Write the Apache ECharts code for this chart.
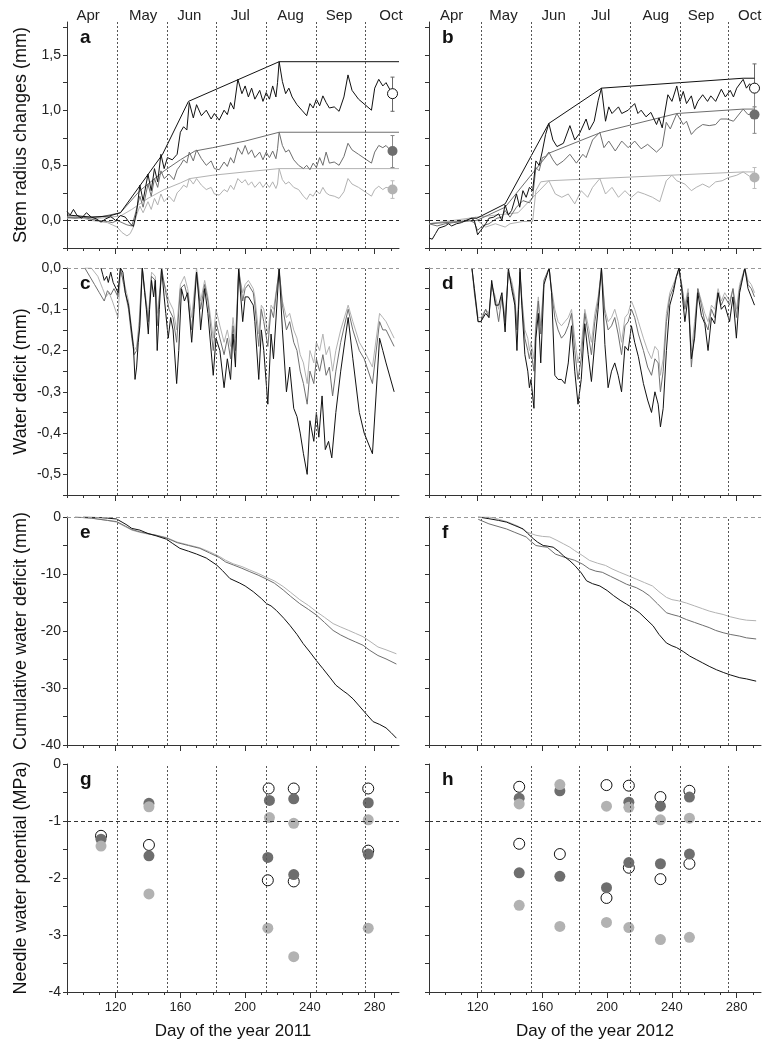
<!DOCTYPE html>
<html>
<head>
<meta charset="utf-8">
<script src="https://cdn.jsdelivr.net/npm/echarts@6/dist/echarts.min.js"></script>
<style>
  html, body { margin: 0; padding: 0; background: #fff; }
  #chart { width: 779px; height: 1049px; }
</style>
</head>
<body>
<div id="chart"></div>
<script>
// --- data (day of year, value) ---
const monthNames = ['Apr', 'May', 'Jun', 'Jul', 'Aug', 'Sep', 'Oct'];
const monthLabelDay2011 = [103, 137, 165.5, 197, 228, 258, 290];
const monthLabelDay2012 = [104, 136, 167, 196, 230, 258, 288];
const monthStart2011 = [121, 152, 182, 213, 244, 274];
const monthStart2012 = [122, 153, 183, 214, 245, 275];
const xTicks = [90, 100, 110, 120, 130, 140, 150, 160, 170, 180, 190, 200, 210, 220, 230, 240, 250, 260, 270, 280, 290];
const xLabels = [120, 160, 200, 240, 280];

// a: stem radius changes 2011
const aBlack = [[90,0.08],[92,0.05],[94,0.1],[96,0.05],[99,0.02],[102,0.07],[105,0.03],[108,0.015],[111,-0.015],[114,0.015],[117,0.035],[120,0],[123,0.045],[126,0.03],[129,-0.03],[131,-0.055],[133,0.08],[135,0.32],[137,0.18],[140,0.42],[142,0.27],[144,0.47],[146,0.35],[148,0.6],[150,0.47],[152,0.57],[155,0.55],[158,0.6],[160,0.8],[162,0.85],[164,0.82],[165.5,1.07],[168,0.93],[170,1.05],[173,0.95],[176,1.0],[179,0.92],[181,0.97],[184,0.91],[187,1.0],[189,0.96],[191,1.07],[193,1.01],[195.5,1.28],[198,1.15],[200,1.22],[202,1.12],[204,1.2],[206,1.1],[209,1.18],[211,1.08],[213,1.16],[215,1.1],[217,1.22],[219,1.12],[220,1.25],[221,1.44],[223,1.26],[225,1.15],[227,1.2],[229,1.12],[232,1.05],[235,1.0],[238,0.95],[240,1.06],[242,1.02],[244,1.1],[246,1.04],[248,1.13],[250,1.07],[252,1.02],[255,1.03],[258,0.99],[261,1.12],[263.5,1.32],[266,1.18],[270,1.1],[274,1.05],[278,1.0],[280,1.2],[282.5,1.28],[285,1.22],[287,1.25],[290,1.17]];
const aMid = [[90,0.03],[95,0.02],[100,0.03],[105,0.01],[110,0.0],[115,-0.01],[118,-0.02],[121,0.0],[124,-0.02],[127,-0.04],[130,-0.05],[132,0.05],[135,0.22],[137,0.12],[140,0.33],[142,0.22],[144,0.38],[146,0.3],[148,0.45],[150,0.38],[153,0.42],[156,0.37],[158,0.46],[160,0.5],[162,0.55],[164,0.52],[165.5,0.62],[168,0.54],[170,0.64],[173,0.56],[176,0.5],[179,0.54],[181,0.47],[184,0.46],[187,0.53],[189,0.49],[191,0.57],[193,0.52],[195.5,0.66],[198,0.6],[200,0.68],[202,0.6],[204,0.64],[206,0.57],[209,0.62],[211,0.55],[213,0.62],[215,0.57],[217,0.63],[219,0.56],[220,0.65],[221,0.8],[223,0.68],[225,0.62],[227,0.64],[230,0.55],[233,0.5],[236,0.47],[238,0.5],[240,0.46],[242,0.52],[244,0.48],[246,0.57],[248,0.5],[250,0.62],[252,0.52],[255,0.53],[258,0.5],[261,0.58],[263.5,0.7],[266,0.64],[270,0.6],[274,0.56],[278,0.52],[280,0.62],[282.5,0.68],[285,0.66],[287,0.68],[290,0.63]];
const aLight = [[90,0.03],[95,0.03],[100,0.02],[105,0.0],[110,-0.01],[115,-0.02],[118,-0.04],[121,-0.06],[124,-0.11],[127,-0.14],[129,-0.12],[131,-0.06],[133,0.05],[135,0.13],[137,0.07],[140,0.17],[142,0.1],[144,0.2],[146,0.14],[148,0.24],[150,0.17],[153,0.22],[156,0.17],[158,0.25],[160,0.28],[162,0.32],[164,0.3],[165.5,0.38],[168,0.33],[170,0.38],[173,0.32],[176,0.28],[179,0.3],[181,0.24],[184,0.23],[187,0.28],[189,0.26],[191,0.32],[193,0.28],[195.5,0.38],[198,0.34],[200,0.37],[202,0.32],[204,0.35],[206,0.3],[209,0.35],[211,0.3],[213,0.34],[215,0.3],[217,0.35],[219,0.29],[220,0.33],[221,0.47],[223,0.37],[225,0.33],[227,0.35],[230,0.3],[233,0.28],[236,0.22],[238,0.19],[240,0.24],[242,0.22],[244,0.27],[246,0.24],[248,0.3],[250,0.25],[252,0.23],[255,0.22],[258,0.2],[261,0.26],[263.5,0.38],[266,0.33],[270,0.3],[274,0.26],[278,0.22],[280,0.28],[282.5,0.31],[285,0.28],[287,0.3],[290,0.29]];
const aBlackEnv = [[90,0.05],[105,0.03],[116,0.04],[123,0.07],[149,0.6],[165,1.08],[221,1.44],[295,1.44]];
const aMidEnv = [[90,0.03],[110,0.03],[123,0.07],[135,0.27],[150,0.45],[160,0.55],[169,0.63],[180,0.66],[200,0.72],[221,0.8],[295,0.8]];
const aLightEnv = [[90,0.02],[110,0.02],[123,0.04],[130,0.1],[140,0.2],[150,0.28],[160,0.34],[166,0.38],[180,0.41],[200,0.44],[221,0.47],[295,0.47]];
// day, mean, low, high  (black, dark grey, light grey)
const aEnd = [[291,1.15,0.99,1.30],[291,0.63,0.48,0.77],[291,0.28,0.20,0.36]];

// b: stem radius changes 2012
const bBlack = [[90,-0.16],[92,-0.17],[94,-0.12],[96,-0.07],[98,-0.06],[100,-0.05],[102,-0.03],[104,-0.05],[107,-0.03],[110,-0.02],[113,0.0],[116,0.02],[118,0.0],[120,-0.13],[122,-0.09],[125,-0.03],[127,0.02],[130,0.03],[133,0.06],[135,0.0],[137,0.14],[139,0.05],[141,0.09],[144,0.24],[146,0.12],[148,0.27],[150,0.21],[152,0.3],[154,0.27],[156,0.54],[158,0.5],[160,0.63],[162,0.78],[164,0.88],[166.5,0.73],[169,0.67],[173,0.7],[177,0.86],[180,0.73],[183,0.79],[187,0.92],[189,0.82],[192,0.9],[194.5,1.09],[196.5,1.2],[199,0.9],[201,1.03],[203,0.97],[207,1.03],[209,0.97],[213,1.0],[217,1.06],[219,0.97],[221,1.0],[224,0.94],[227,0.98],[230.5,0.87],[232,0.93],[234,0.84],[237.5,1.14],[240,1.08],[243,1.22],[245,1.08],[247,1.17],[249,1.06],[252,1.13],[254,1.01],[256,1.08],[259,1.14],[262,1.08],[264,1.13],[267,1.08],[270.5,1.19],[273,1.12],[276,1.18],[278,1.12],[280,1.2],[284,1.28],[286,1.2],[288,1.24],[290,1.2]];
const bMid = [[90,-0.03],[95,-0.05],[100,-0.03],[105,-0.02],[110,-0.01],[115,0.0],[118,-0.02],[120,-0.09],[123,-0.05],[127,-0.03],[132,0.02],[135,0.03],[137,0.09],[140,0.03],[144,0.12],[148,0.18],[152,0.16],[154,0.21],[156,0.48],[158,0.45],[160,0.57],[162,0.58],[164,0.62],[166.5,0.55],[169,0.5],[173,0.54],[177,0.6],[181,0.52],[185,0.6],[187,0.57],[191,0.73],[195.5,0.8],[198,0.66],[201,0.72],[205,0.63],[209,0.72],[213,0.66],[217,0.72],[221,0.65],[225,0.69],[230.5,0.62],[234,0.67],[236.5,0.89],[239,0.83],[243,0.97],[247,0.87],[249,0.9],[252,0.78],[255,0.83],[259,0.87],[263,0.86],[267,0.87],[270,0.92],[274,0.92],[278,0.9],[284,1.01],[287,0.96],[290,0.97]];
const bLight = [[90,-0.03],[95,-0.02],[100,-0.01],[105,-0.01],[110,0.0],[115,0.01],[119,0.03],[120,0.0],[125,-0.06],[131,-0.03],[137,-0.06],[140,-0.03],[148,-0.01],[154,-0.01],[156,0.27],[159,0.35],[164,0.36],[168,0.24],[172,0.21],[176,0.24],[180,0.15],[184,0.27],[188,0.21],[191,0.3],[195.5,0.38],[199,0.24],[203,0.3],[207,0.21],[211,0.27],[215,0.21],[219,0.26],[223,0.24],[228,0.21],[232.5,0.17],[236.5,0.36],[240,0.41],[243,0.36],[248,0.33],[252,0.27],[255,0.3],[259,0.33],[263,0.3],[267,0.35],[271,0.36],[275,0.39],[280,0.41],[284,0.44],[288,0.4],[290,0.41]];
const bBlackEnv = [[116,0.02],[119.5,0.02],[137,0.15],[164,0.88],[196.5,1.2],[284,1.29],[291,1.29]];
const bMidEnv = [[90,-0.03],[119.5,0.0],[137,0.12],[164,0.61],[196.5,0.8],[243,0.97],[284,1.01],[291,1.01]];
const bLightEnv = [[90,-0.03],[119.5,0.03],[145,0.07],[164,0.36],[284,0.44],[291,0.44]];
const bEnd = [[291,1.20,1.03,1.42],[291,0.96,0.79,1.18],[291,0.39,0.29,0.48]];

// c: water deficit 2011
const cBlack = [[111,0],[112,-0.015],[113,-0.03],[114.5,-0.02],[115.5,-0.035],[117,-0.01],[118.5,-0.035],[121.5,-0.06],[123,0],[124.5,-0.01],[126,-0.06],[128,-0.09],[129.5,-0.14],[131,-0.19],[132,-0.27],[133,-0.24],[134,-0.18],[135,-0.14],[136.5,0],[138,-0.06],[139,-0.1],[140.2,-0.16],[141,-0.1],[142.2,-0.03],[143.5,-0.07],[144.5,-0.03],[145.7,-0.2],[147,-0.1],[148.4,0],[150,-0.07],[151,-0.11],[152.5,-0.17],[154,-0.12],[155.5,-0.15],[157.7,-0.28],[159,-0.2],[160.7,-0.05],[162.5,-0.08],[164.5,-0.06],[167,-0.18],[168.5,-0.1],[170,-0.01],[171.5,-0.08],[172.5,-0.15],[175,-0.05],[177,-0.11],[180.3,-0.26],[182,-0.17],[184.4,-0.2],[187,-0.29],[189,-0.22],[191,-0.27],[192.5,-0.16],[194,-0.24],[196,0],[197.5,-0.08],[198.5,-0.13],[200,-0.07],[202,-0.07],[205,-0.09],[206,-0.13],[208.4,-0.27],[210,-0.15],[211.5,-0.2],[214,-0.33],[216,-0.16],[217.5,-0.22],[221,0],[223,-0.15],[225.5,-0.3],[227.5,-0.24],[230,-0.34],[232,-0.36],[234,-0.4],[236,-0.45],[238.3,-0.5],[240,-0.37],[242.4,-0.42],[244,-0.35],[245.5,-0.41],[247.5,-0.31],[249.5,-0.44],[251.5,-0.42],[253.5,-0.46],[256,-0.35],[259,-0.25],[263.6,-0.12],[266.5,-0.22],[270.5,-0.35],[273.5,-0.4],[278.6,-0.45],[283,-0.17],[285,-0.2],[287,-0.23],[292,-0.3]];
const cMid = [[101,0],[104,-0.02],[107,-0.04],[110,-0.06],[113,-0.08],[115,-0.055],[117,-0.065],[119,-0.05],[121.5,-0.07],[123,0],[125,-0.04],[128,-0.1],[130,-0.17],[131.5,-0.21],[133,-0.2],[134.5,-0.15],[136.5,0],[138,-0.06],[140.2,-0.13],[142.2,-0.02],[144.5,-0.03],[145.7,-0.14],[148.4,0],[151,-0.06],[153,-0.1],[155.5,-0.12],[157.7,-0.18],[160,-0.05],[162.5,-0.04],[164.5,-0.07],[167,-0.15],[170,-0.01],[172.5,-0.1],[175,-0.04],[177,-0.08],[180.3,-0.2],[182,-0.13],[184.4,-0.17],[187,-0.21],[189,-0.17],[191,-0.22],[192.5,-0.14],[194,-0.2],[196,0],[198.5,-0.08],[200,-0.05],[202,-0.04],[205,-0.06],[206,-0.09],[208.4,-0.19],[210,-0.1],[211.5,-0.13],[214,-0.19],[216,-0.1],[217.5,-0.12],[221,0],[223,-0.09],[225.5,-0.15],[227.5,-0.13],[230,-0.18],[232,-0.2],[234,-0.25],[236,-0.28],[238.3,-0.33],[240,-0.25],[242.4,-0.28],[244,-0.22],[246,-0.25],[248,-0.21],[250,-0.26],[252,-0.24],[254,-0.31],[256,-0.25],[259,-0.18],[263.6,-0.1],[266.5,-0.15],[270.5,-0.2],[273.5,-0.22],[278.6,-0.28],[283,-0.13],[285,-0.15],[287,-0.15],[292,-0.19]];
const cLight = [[101,0],[105,0],[109,-0.02],[112,-0.05],[114,-0.07],[116,-0.06],[118,-0.08],[121.5,-0.12],[123,-0.01],[125,-0.03],[128,-0.08],[130,-0.15],[131.5,-0.2],[133,-0.19],[134.5,-0.13],[136.5,0],[138,-0.05],[140.2,-0.12],[142.2,-0.01],[144.5,-0.02],[145.7,-0.11],[148.4,-0.02],[151,-0.05],[153,-0.08],[155.5,-0.1],[157.7,-0.15],[160,-0.04],[162.5,-0.02],[164.5,-0.05],[167,-0.12],[170,0],[172.5,-0.08],[175,-0.03],[177,-0.07],[180.3,-0.17],[182,-0.1],[184.4,-0.14],[187,-0.18],[189,-0.15],[191,-0.19],[192.5,-0.12],[194,-0.17],[196,-0.01],[198.5,-0.06],[200,-0.04],[202,-0.03],[205,-0.05],[206,-0.07],[208.4,-0.16],[210,-0.09],[211.5,-0.1],[214,-0.16],[216,-0.09],[217.5,-0.1],[221,-0.01],[223,-0.08],[225.5,-0.12],[227.5,-0.11],[230,-0.15],[232,-0.17],[234,-0.21],[236,-0.23],[238.3,-0.28],[240,-0.2],[242.4,-0.23],[244,-0.18],[246,-0.2],[248,-0.16],[250,-0.21],[252,-0.19],[254,-0.25],[256,-0.2],[259,-0.15],[263.6,-0.09],[266.5,-0.13],[270.5,-0.18],[273.5,-0.2],[278.6,-0.24],[283,-0.11],[285,-0.12],[287,-0.13],[292,-0.17]];

// d: water deficit 2012
const dBlack = [[116.5,0],[118,-0.05],[120.3,-0.13],[122,-0.13],[125,-0.11],[127,-0.12],[128.7,-0.03],[131,-0.09],[133,-0.09],[135,-0.06],[137,-0.155],[139,0],[141,-0.05],[143,-0.09],[144.3,-0.2],[145.3,-0.1],[146.2,0],[147.3,-0.09],[149.2,-0.21],[151,-0.25],[152,-0.29],[153,-0.27],[154.8,-0.34],[156,-0.17],[157.5,-0.11],[159,-0.23],[161,-0.04],[164.2,0],[165.7,-0.06],[167.7,-0.26],[169.7,-0.27],[171.8,-0.27],[173.9,-0.28],[176,-0.23],[178,-0.14],[180,-0.25],[182,-0.33],[184,-0.27],[186.2,-0.135],[188.3,-0.21],[190.3,-0.275],[192.4,-0.18],[194.4,-0.1],[196.5,0],[198.6,-0.185],[200.6,-0.29],[202.7,-0.25],[204.7,-0.23],[206.8,-0.26],[208.9,-0.3],[211,-0.19],[213,-0.2],[215,-0.14],[217,-0.18],[219.3,-0.215],[222.4,-0.28],[225,-0.32],[227.4,-0.35],[229.5,-0.3],[231.5,-0.33],[232.9,-0.385],[234.6,-0.34],[236.6,-0.2],[238.7,-0.09],[240.8,-0.06],[242.8,-0.02],[244.4,0],[246,-0.05],[248,-0.13],[250,-0.07],[252,-0.22],[254,-0.17],[256,-0.06],[258.2,-0.115],[260.3,-0.135],[262.3,-0.2],[264.4,-0.12],[266.4,-0.135],[268.5,-0.06],[270.5,-0.1],[272.6,-0.09],[275.6,-0.13],[277.7,-0.07],[279.8,-0.17],[281.8,-0.06],[285,0],[287,-0.05],[289,-0.07],[291,-0.09]];
const dMid = [[116.5,0],[118,-0.06],[120.3,-0.13],[122,-0.13],[125,-0.1],[127,-0.12],[128.7,-0.04],[131,-0.08],[133,-0.13],[135,-0.07],[137,-0.13],[139,-0.01],[141,-0.04],[143,-0.08],[144.3,-0.15],[145.3,-0.09],[146.2,-0.01],[147.3,-0.08],[149.2,-0.17],[151,-0.2],[152,-0.22],[153,-0.2],[154.8,-0.25],[156,-0.15],[157.5,-0.08],[159,-0.16],[161,-0.03],[164.2,0],[165.7,-0.06],[167.7,-0.12],[169.7,-0.15],[171.8,-0.17],[173.9,-0.16],[176,-0.14],[178,-0.11],[180,-0.2],[182,-0.27],[184,-0.22],[186.2,-0.11],[188.3,-0.16],[190.3,-0.21],[192.4,-0.13],[194.4,-0.08],[196.5,0],[198.6,-0.11],[200.6,-0.15],[202.7,-0.14],[204.7,-0.12],[206.8,-0.16],[208.9,-0.21],[211,-0.14],[213,-0.13],[215,-0.1],[217,-0.12],[219.3,-0.16],[222.4,-0.2],[225,-0.24],[227.4,-0.26],[229.5,-0.22],[231.5,-0.23],[232.9,-0.3],[234.6,-0.25],[236.6,-0.13],[238.7,-0.07],[240.8,-0.05],[242.8,-0.02],[244.4,0],[246,-0.04],[248,-0.1],[250,-0.06],[252,-0.24],[254,-0.15],[256,-0.05],[258.2,-0.09],[260.3,-0.13],[262.3,-0.15],[264.4,-0.1],[266.4,-0.12],[268.5,-0.06],[270.5,-0.09],[272.6,-0.07],[275.6,-0.09],[277.7,-0.05],[279.8,-0.12],[281.8,-0.05],[285,0],[287,-0.04],[289,-0.05],[291,-0.07]];
const dLight = [[116.5,0],[118,-0.05],[120.3,-0.12],[122,-0.12],[125,-0.1],[127,-0.11],[128.7,-0.04],[131,-0.07],[133,-0.1],[135,-0.06],[137,-0.12],[139,-0.01],[141,-0.03],[143,-0.07],[144.3,-0.14],[145.3,-0.08],[146.2,-0.02],[147.3,-0.07],[149.2,-0.15],[151,-0.17],[152,-0.2],[153,-0.18],[154.8,-0.22],[156,-0.13],[157.5,-0.07],[159,-0.14],[161,-0.03],[164.2,0],[165.7,-0.05],[167.7,-0.1],[169.7,-0.13],[171.8,-0.14],[173.9,-0.13],[176,-0.12],[178,-0.1],[180,-0.17],[182,-0.23],[184,-0.19],[186.2,-0.1],[188.3,-0.14],[190.3,-0.18],[192.4,-0.11],[194.4,-0.07],[196.5,-0.01],[198.6,-0.1],[200.6,-0.13],[202.7,-0.12],[204.7,-0.1],[206.8,-0.13],[208.9,-0.18],[211,-0.12],[213,-0.11],[215,-0.08],[217,-0.1],[219.3,-0.13],[222.4,-0.17],[225,-0.2],[227.4,-0.22],[229.5,-0.19],[231.5,-0.2],[232.9,-0.26],[234.6,-0.22],[236.6,-0.11],[238.7,-0.06],[240.8,-0.04],[242.8,-0.02],[244.4,-0.01],[246,-0.04],[248,-0.09],[250,-0.05],[252,-0.2],[254,-0.13],[256,-0.05],[258.2,-0.08],[260.3,-0.11],[262.3,-0.13],[264.4,-0.09],[266.4,-0.1],[268.5,-0.05],[270.5,-0.08],[272.6,-0.06],[275.6,-0.08],[277.7,-0.05],[279.8,-0.1],[281.8,-0.04],[285,0],[287,-0.03],[289,-0.04],[291,-0.06]];

// e: cumulative water deficit 2011
const eBlack = [[100,0],[110,-0.1],[115,-0.2],[120.6,-0.35],[124,-0.9],[127,-1.4],[130,-2.0],[135,-2.3],[140,-2.9],[145,-3.3],[151.5,-3.9],[155,-4.6],[159.7,-5.5],[165,-6.0],[170,-6.5],[176,-7.2],[182.3,-8.4],[186,-9.4],[190.6,-10.8],[196.7,-11.6],[200,-12.1],[205,-13.1],[210,-14.3],[213.2,-15.2],[216,-15.6],[219.3,-16.4],[224,-17.8],[227.6,-19],[232,-20.6],[235.8,-22.2],[240,-23.7],[244,-25.2],[248,-26.6],[252.2,-28.1],[256,-29.5],[260.5,-30.5],[263,-31.0],[266.6,-31.9],[270,-33.0],[274.9,-34.6],[279,-35.9],[283.1,-36.4],[287,-37.0],[290,-37.8],[293.4,-38.8]];
const eMid = [[95,0],[105,-0.2],[115,-0.6],[120.6,-0.8],[126,-1.6],[130,-2.2],[135,-2.6],[140,-2.9],[145,-3.2],[151.5,-3.7],[158,-4.5],[165,-5.0],[172,-5.5],[178,-6.3],[184,-7.1],[188,-7.9],[192.6,-8.4],[198,-9.0],[202.9,-9.6],[208,-10.2],[213.2,-10.9],[218,-11.6],[223.5,-12.8],[228,-13.9],[233.7,-15.2],[239,-16.2],[244,-17.2],[249,-18.5],[254.3,-19.9],[259,-20.7],[264,-21.4],[268,-21.9],[272.8,-22.5],[277,-23.4],[282,-24.3],[287,-24.9],[293.4,-25.8]];
const eLight = [[95,0],[105,-0.2],[115,-0.6],[120.6,-0.9],[126,-1.7],[130,-2.3],[135,-2.7],[140,-3.0],[145,-3.2],[151.5,-3.6],[158,-4.4],[165,-4.9],[172,-5.4],[178,-6.1],[184,-6.9],[188,-7.6],[192.6,-8.2],[198,-8.7],[202.9,-9.3],[208,-9.9],[213.2,-10.6],[218,-11.2],[223.5,-12.2],[228,-13.2],[233.7,-14.5],[239,-15.5],[244,-16.6],[249,-17.6],[254.3,-18.7],[259,-19.3],[264,-19.9],[268,-20.4],[272.8,-21.0],[277,-21.8],[282,-22.8],[287,-23.3],[293.4,-24.0]];

// f: cumulative water deficit 2012
const fBlack = [[120.4,0],[127,-0.3],[133,-0.6],[137.9,-0.9],[143,-1.5],[148.2,-2.1],[151,-2.9],[154.4,-3.8],[157,-4.4],[160.5,-5.0],[163,-5.1],[166.7,-5.3],[170,-6.0],[173,-6.8],[177,-7.7],[180,-8.5],[184,-9.8],[187.3,-11.2],[191,-11.7],[195.5,-12.1],[200,-12.9],[204,-13.8],[208,-14.6],[212,-15.3],[216,-16.0],[220,-16.8],[224,-17.9],[228.4,-19.1],[232,-20.6],[236.6,-22.1],[240,-22.6],[242.8,-22.9],[247,-23.6],[251,-24.4],[255,-25.0],[259,-25.6],[263,-26.2],[267.5,-26.8],[272,-27.3],[276,-27.7],[281.9,-28.2],[286,-28.4],[292,-28.8]];
const fMid = [[120.4,-0.4],[127,-1.2],[137.9,-2.1],[143,-2.7],[150,-3.5],[153,-4.3],[156,-5.0],[160,-5.2],[163,-5.3],[168,-6.5],[174,-7.1],[180,-7.6],[185,-8.3],[189,-9.1],[193,-9.5],[197,-9.7],[202,-10.4],[207.8,-11.2],[212,-11.8],[218,-12.4],[222,-13.0],[226,-13.8],[231,-15.2],[236.6,-16.8],[240,-17.1],[244,-17.4],[249,-18.0],[254,-18.5],[259,-19.0],[263,-19.4],[267,-19.9],[271.6,-20.3],[276,-20.6],[281.9,-20.9],[286,-21.2],[292,-21.4]];
const fLight = [[120.4,0],[127,0],[132,-0.3],[139,-0.9],[145,-1.6],[150,-2.6],[153,-2.9],[156,-3.2],[160,-3.4],[164.6,-3.5],[169,-4.1],[173,-4.7],[177,-5.3],[180,-5.9],[185,-6.8],[189,-7.6],[194,-8.1],[199,-8.5],[203,-9.1],[207.8,-9.7],[213,-10.3],[218,-10.9],[223,-11.5],[228,-12.1],[232,-13.1],[236.6,-14.1],[240,-14.5],[244,-14.7],[249,-15.1],[254,-15.6],[259,-16.1],[263,-16.5],[267,-16.8],[271.6,-17.1],[276,-17.5],[281.9,-17.9],[286,-18.1],[292,-18.2]];

// g, h: needle water potential
const gOpen = [[111,-1.26],[140.6,-1.42],[214.5,-0.43],[214,-2.04],[230,-0.43],[230,-2.06],[276,-0.43],[276,-1.52]];
const gDark = [[111,-1.32],[140.6,-0.69],[140.6,-1.61],[215,-0.64],[214,-1.64],[230,-0.61],[230,-1.94],[276,-0.68],[276,-1.58]];
const gLight = [[111,-1.44],[140.6,-0.75],[140.6,-2.28],[215,-0.94],[214,-2.88],[230,-1.04],[230,-3.38],[276,-0.98],[276,-2.88]];
const hOpen = [[145.7,-0.4],[145.7,-1.4],[170.8,-1.58],[199.6,-0.37],[199.6,-2.35],[213.4,-0.38],[213.4,-1.82],[232.9,-0.58],[232.9,-2.02],[250.8,-0.47],[250.8,-1.75]];
const hDark = [[145.7,-0.6],[145.7,-1.91],[170.8,-0.47],[170.8,-1.97],[199.6,-2.17],[213.4,-0.67],[213.4,-1.73],[232.9,-0.74],[232.9,-1.75],[250.8,-0.58],[250.8,-1.58]];
const hLight = [[145.7,-0.7],[145.7,-2.48],[170.8,-0.36],[170.8,-2.85],[199.6,-0.74],[199.6,-2.78],[213.4,-0.76],[213.4,-2.87],[232.9,-0.98],[232.9,-3.08],[250.8,-0.95],[250.8,-3.04]];

// --- layout / styling ---
const FONT = 'Liberation Sans, Arial, sans-serif';
const C_BLACK = '#111', C_MID = '#6e6e6e', C_LIGHT = '#b2b2b2';
const colLeft = [67, 429];
const plotW = 332;
const rowTop = [22, 268, 517, 764];
const rowH = [226, 227, 228, 228];

const yCfg = [
  { min: -0.25, max: 1.8, ticks: [-0.25,0,0.25,0.5,0.75,1,1.25,1.5,1.75], labels: [0,0.5,1,1.5], dec: 1, name: 'Stem radius changes (mm)', ref: 0, refColor: '#222' },
  { min: -0.55, max: 0, ticks: [-0.55,-0.5,-0.45,-0.4,-0.35,-0.3,-0.25,-0.2,-0.15,-0.1,-0.05,0], labels: [0,-0.1,-0.2,-0.3,-0.4,-0.5], dec: 1, name: 'Water deficit (mm)', ref: 0, refColor: '#999' },
  { min: -40, max: 0, ticks: [-40,-35,-30,-25,-20,-15,-10,-5,0], labels: [0,-10,-20,-30,-40], dec: 0, name: 'Cumulative water deficit (mm)', ref: 0, refColor: '#999' },
  { min: -4, max: 0, ticks: [-4,-3.5,-3,-2.5,-2,-1.5,-1,-0.5,0], labels: [0,-1,-2,-3,-4], dec: 0, name: 'Needle water potential (MPa)', ref: -1, refColor: '#333' }
];

const grid = [], xAxis = [], yAxis = [], series = [];
const letters = ['a','b','c','d','e','f','g','h'];

for (let r = 0; r < 4; r++) {
  for (let c = 0; c < 2; c++) {
    const i = r * 2 + c;
    const cfg = yCfg[r];
    grid.push({ left: colLeft[c], top: rowTop[r], width: plotW, height: rowH[r] });
    xAxis.push({
      type: 'value', gridIndex: i, min: 90, max: 295, position: 'bottom',
      axisLine: { onZero: false, lineStyle: { color: '#333', width: 1 } },
      axisTick: { customValues: xTicks, length: 3, lineStyle: { color: '#333' } },
      axisLabel: { show: r === 3, customValues: xLabels, margin: 9, fontSize: 13, color: '#222', fontFamily: FONT },
      splitLine: { show: false },
      name: r === 3 ? 'Day of the year ' + (c === 0 ? '2011' : '2012') : '',
      nameLocation: 'middle', nameGap: 31,
      nameTextStyle: { fontSize: 17, color: '#111', fontFamily: FONT }
    });
    yAxis.push({
      type: 'value', gridIndex: i, min: cfg.min, max: cfg.max, position: 'left',
      axisLine: { show: true, onZero: false, lineStyle: { color: '#333', width: 1 } },
      axisTick: { customValues: cfg.ticks, length: 4, lineStyle: { color: '#333' } },
      axisLabel: {
        show: c === 0, customValues: cfg.labels, margin: 6, fontSize: 14, color: '#222', fontFamily: FONT,
        formatter: v => cfg.dec ? v.toFixed(cfg.dec).replace('.', ',') : String(Math.round(v))
      },
      splitLine: { show: false },
      name: c === 0 ? cfg.name : '', nameLocation: 'middle', nameGap: 37,
      nameTextStyle: { fontSize: 18, color: '#111', fontFamily: FONT }
    });
  }
}
// longer major ticks at labelled days
for (let i = 0; i < 8; i++) {
  xAxis.push({
    type: 'value', gridIndex: i, min: 90, max: 295, position: 'bottom',
    axisLine: { show: false, onZero: false },
    axisTick: { customValues: xLabels, length: 6, lineStyle: { color: '#333' } },
    axisLabel: { show: false }, splitLine: { show: false }
  });
}
// month names on top of a and b
[monthLabelDay2011, monthLabelDay2012].forEach((days, c) => {
  xAxis.push({
    type: 'value', gridIndex: c, min: 90, max: 295, position: 'top',
    axisLine: { show: false, onZero: false }, axisTick: { show: false }, splitLine: { show: false },
    axisLabel: {
      customValues: days, margin: -1, fontSize: 15, color: '#222', fontFamily: FONT, hideOverlap: false,
      formatter: v => monthNames[days.indexOf(v)]
    }
  });
});

function guides(i) {
  const r = Math.floor(i / 2), c = i % 2;
  const starts = c === 0 ? monthStart2011 : monthStart2012;
  const data = starts.map(d => ({ xAxis: d, lineStyle: { type: [2, 2], color: '#555', width: 1 } }));
  data.push({ yAxis: yCfg[r].ref, lineStyle: { type: [4, 3], color: yCfg[r].refColor, width: 1 } });
  return { silent: true, symbol: ['none', 'none'], label: { show: false }, animation: false, data };
}

function line(i, data, color, withGuides) {
  const s = {
    type: 'line', xAxisIndex: i, yAxisIndex: i, data, showSymbol: false, symbol: 'none',
    lineStyle: { color, width: 1 }, silent: true, animation: false, z: 3
  };
  if (withGuides) s.markLine = guides(i);
  return s;
}

function dots(i, data, fill, border, size, withGuides) {
  const s = {
    type: 'scatter', xAxisIndex: i, yAxisIndex: i, data, symbol: 'circle', symbolSize: size,
    itemStyle: { color: fill, borderColor: border, borderWidth: border === 'none' ? 0 : 1, opacity: 1 },
    silent: true, animation: false, z: 4
  };
  if (withGuides) s.markLine = guides(i);
  return s;
}

const endColors = [['#fff', C_BLACK, '#666'], [C_MID, 'none', '#888'], [C_LIGHT, 'none', '#bbb']];
function endBars(i, rows) {
  series.push({
    type: 'custom', xAxisIndex: i, yAxisIndex: i, data: rows, silent: true, animation: false, z: 3,
    renderItem: (params, api) => {
      const x = api.value(0);
      const p1 = api.coord([x, api.value(2)]);
      const p2 = api.coord([x, api.value(3)]);
      const stroke = endColors[params.dataIndex][2];
      return {
        type: 'group', children: [
          { type: 'line', shape: { x1: p1[0], y1: p1[1], x2: p2[0], y2: p2[1] }, style: { stroke, lineWidth: 1 } },
          { type: 'line', shape: { x1: p1[0] - 2, y1: p1[1], x2: p1[0] + 2, y2: p1[1] }, style: { stroke, lineWidth: 1 } },
          { type: 'line', shape: { x1: p2[0] - 2, y1: p2[1], x2: p2[0] + 2, y2: p2[1] }, style: { stroke, lineWidth: 1 } }
        ]
      };
    }
  });
  rows.forEach((row, k) => {
    series.push(dots(i, [[row[0], row[1]]], endColors[k][0], endColors[k][1], 10, false));
  });
}

// a, b
[[aLight, aMid, aBlack, aLightEnv, aMidEnv, aBlackEnv, aEnd],
 [bLight, bMid, bBlack, bLightEnv, bMidEnv, bBlackEnv, bEnd]].forEach((set, i) => {
  series.push(line(i, set[3], C_LIGHT, true));
  series.push(line(i, set[0], C_LIGHT, false));
  series.push(line(i, set[4], C_MID, false));
  series.push(line(i, set[1], C_MID, false));
  series.push(line(i, set[5], C_BLACK, false));
  series.push(line(i, set[2], C_BLACK, false));
  endBars(i, set[6]);
});
// c..f
[[cLight, cMid, cBlack], [dLight, dMid, dBlack], [eLight, eMid, eBlack], [fLight, fMid, fBlack]].forEach((set, k) => {
  const i = k + 2;
  series.push(line(i, set[0], C_LIGHT, true));
  series.push(line(i, set[1], C_MID, false));
  series.push(line(i, set[2], C_BLACK, false));
});
// g, h
[[gOpen, gDark, gLight], [hOpen, hDark, hLight]].forEach((set, k) => {
  const i = k + 6;
  series.push(dots(i, set[0], '#fff', C_BLACK, 11, true));
  series.push(dots(i, set[1], C_MID, 'none', 11, false));
  series.push(dots(i, set[2], C_LIGHT, 'none', 11, false));
});

const graphic = letters.map((t, i) => ({
  type: 'text', left: colLeft[i % 2] + 13, top: rowTop[Math.floor(i / 2)] + 6,
  style: { text: t, font: 'bold 19px ' + FONT, fill: '#111' }
}));

const chart = echarts.init(document.getElementById('chart'), null, { renderer: 'canvas' });
chart.setOption({
  animation: false,
  backgroundColor: '#fff',
  grid, xAxis, yAxis, series, graphic
});
</script>
</body>
</html>
